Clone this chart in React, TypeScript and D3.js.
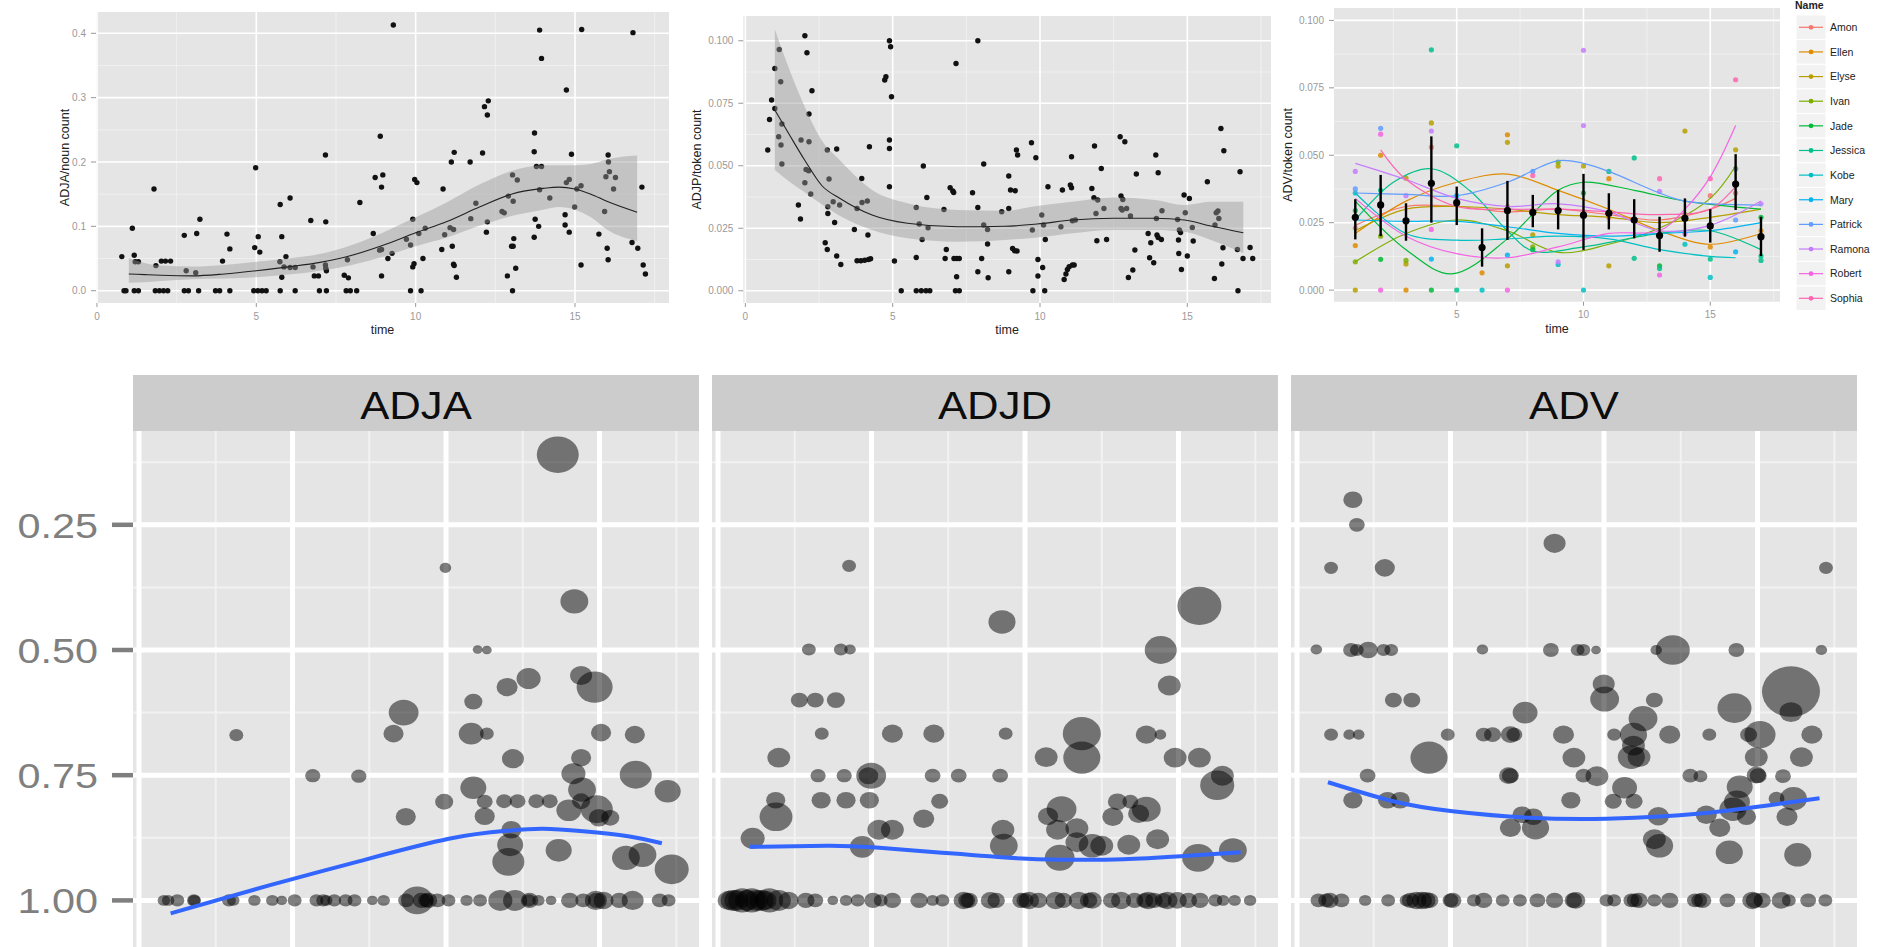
import { useEffect, useRef } from 'react';
import * as d3 from 'd3';

const WIDTH = 1879;
const HEIGHT = 947;
const FONT = '"Liberation Sans", Arial, Helvetica, sans-serif';
const PANEL_BG = '#E5E5E5';
const GRID_MINOR = '#F2F2F2';
const AXIS_GREY = '#7F7F7F';
// the bottom half of the picture is stretched sideways a little
const STRETCH = 1.15;

// ---------- top left: ADJA / noun count ----------
const adjaNounPoints = [
  [0.78, 0.053], [0.85, 0], [0.91, 0], [1.11, 0.097], [1.17, 0.055], [1.2, 0.045], [1.3, 0.045], [1.17, 0], [1.3, 0],
  [1.79, 0.158], [1.85, 0.039], [1.83, 0], [1.96, 0], [2.09, 0], [2.22, 0], [2.02, 0.046], [2.15, 0.046], [2.31, 0.046],
  [2.74, 0.086], [2.8, 0.031], [3.1, 0.028], [3.13, 0.089], [3.23, 0.111], [2.74, 0], [2.87, 0], [3.19, 0], [3.72, 0],
  [3.85, 0], [4.17, 0], [3.94, 0.046], [4.08, 0.088], [4.17, 0.065], [4.95, 0.067], [4.98, 0.191], [5.06, 0.084],
  [5.11, 0.06], [4.92, 0], [5.05, 0], [5.18, 0], [5.31, 0], [5.75, 0.134], [5.8, 0.084], [5.74, 0.045], [5.8, 0.021],
  [5.93, 0.053], [6.06, 0.144], [5.87, 0.037], [6.06, 0.036], [6.22, 0.036], [5.75, 0], [6.22, 0], [6.71, 0.109],
  [6.78, 0.037], [6.82, 0.023], [6.95, 0.023], [7.17, 0.211], [7.18, 0.107], [7.17, 0.04], [7.18, 0.035], [7.2, 0.031],
  [6.98, 0], [7.2, 0], [7.76, 0.024], [7.89, 0.02], [7.86, 0.048], [8.25, 0.137], [7.82, 0], [7.95, 0], [8.15, 0],
  [8.73, 0.176], [8.67, 0.089], [8.89, 0.24], [8.93, 0.161], [8.97, 0.18], [8.87, 0.063], [8.93, 0.064], [8.93, 0.023],
  [9.13, 0.05], [9.26, 0.058], [9.3, 0.413], [9.71, 0.08], [9.84, 0.071], [9.91, 0.111], [9.97, 0.173], [10.04, 0.168],
  [9.91, 0.037], [9.95, 0.042], [9.84, 0], [10.17, 0], [10.1, 0.089], [10.23, 0.05], [10.3, 0.097], [10.82, 0.064],
  [10.86, 0.158], [10.91, 0.087], [11.08, 0.098], [11.12, 0.2], [11.21, 0.215], [11.15, 0.069], [11.19, 0.041],
  [11.21, 0.039], [11.19, 0.095], [11.28, 0.021], [11.71, 0.2], [11.73, 0.112], [11.89, 0.136], [12.1, 0.214],
  [12.16, 0.286], [12.25, 0.273], [12.28, 0.295], [12.22, 0.091], [12.25, 0.107], [12.71, 0.123], [12.78, 0.121],
  [12.88, 0.023], [12.91, 0.147], [13.01, 0.069], [13.06, 0.069], [13.04, 0.18], [13.06, 0.139], [13.08, 0.081],
  [13.04, 0], [13.14, 0.035], [13.19, 0.172], [13.72, 0.083], [13.73, 0.245], [13.72, 0.216], [13.75, 0.111],
  [13.79, 0.193], [13.95, 0.193], [13.86, 0.1], [13.89, 0.405], [13.95, 0.361], [13.89, 0.157], [14.21, 0.144],
  [14.69, 0.118], [14.69, 0.102], [14.73, 0.312], [14.73, 0.168], [14.82, 0.173], [14.82, 0.091], [14.89, 0.212],
  [14.99, 0.13], [15.06, 0.158], [15.19, 0.163], [15.19, 0.04], [15.21, 0.406], [15.75, 0.088], [15.93, 0.123],
  [15.97, 0.177], [16.04, 0.211], [16.05, 0.2], [16.08, 0.185], [16.01, 0.066], [16.04, 0.048], [16.21, 0.158],
  [16.27, 0.176], [16.82, 0.401], [16.79, 0.075], [16.97, 0.066], [17.1, 0.161], [17.14, 0.04], [17.21, 0.026],
];
// time, fit, lower, upper
const adjaNounSmooth = [
  [1.0, 0.026, 0.0125, 0.051], [1.5, 0.025, 0.013, 0.043], [2.0, 0.024, 0.015, 0.039], [3.0, 0.023, 0.018, 0.0375],
  [4.0, 0.026, 0.019, 0.04], [5.0, 0.031, 0.021, 0.045], [6.0, 0.037, 0.025, 0.05], [7.0, 0.044, 0.031, 0.057],
  [8.0, 0.055, 0.04, 0.071], [9.0, 0.071, 0.053, 0.091], [10.0, 0.09, 0.069, 0.114], [11.0, 0.108, 0.083, 0.138],
  [12.0, 0.13, 0.101, 0.165], [13.0, 0.15, 0.116, 0.186], [14.0, 0.159, 0.126, 0.195], [14.5, 0.161, 0.13, 0.195],
  [15.0, 0.158, 0.126, 0.195], [15.5, 0.15, 0.114, 0.197], [16.0, 0.139, 0.095, 0.204], [16.95, 0.122, 0.077, 0.21],
];

// ---------- top middle: ADJP / token count ----------
const adjpTokenPoints = [
  [0.76, 0.0563], [0.82, 0.0685], [0.89, 0.0763], [1.0, 0.0889], [1.0, 0.0729], [1.15, 0.0965], [1.2, 0.0836],
  [1.13, 0.0616], [1.21, 0.0583], [1.24, 0.0667], [1.24, 0.0507], [1.8, 0.0343], [1.87, 0.0287], [1.89, 0.0603],
  [2.02, 0.102], [2.09, 0.0952], [2.02, 0.0432], [2.06, 0.0485], [2.15, 0.048], [2.16, 0.0596], [2.16, 0.0707],
  [2.22, 0.0387], [2.26, 0.08], [2.71, 0.0192], [2.78, 0.0165], [2.78, 0.0563], [2.8, 0.0336], [2.8, 0.0309],
  [2.84, 0.0447], [2.98, 0.0356], [3.03, 0.0273], [3.1, 0.0567], [3.1, 0.0139], [3.2, 0.0343], [3.24, 0.0105],
  [3.7, 0.0245], [3.79, 0.0329], [3.79, 0.012], [3.92, 0.012], [4.05, 0.0122], [4.18, 0.0125], [4.25, 0.0128],
  [3.95, 0.0449], [3.96, 0.0353], [4.14, 0.0359], [4.16, 0.0223], [4.21, 0.0576], [4.73, 0.0843], [4.77, 0.0856],
  [4.89, 0.1], [4.93, 0.0976], [4.96, 0.0776], [4.89, 0.0603], [4.89, 0.0569], [4.89, 0.0416], [5.06, 0.0119],
  [5.29, 0], [5.8, 0.0333], [5.8, 0.0133], [5.9, 0.0267], [6.0, 0.0205], [6.04, 0.0499], [6.16, 0.0373], [6.2, 0.0252],
  [5.8, 0], [5.97, 0], [6.13, 0], [6.26, 0], [6.74, 0.0325], [6.78, 0.0129], [6.82, 0.0165], [6.95, 0.0412],
  [7.04, 0.0399], [7.07, 0.0393], [7.15, 0.0909], [7.08, 0.0129], [7.17, 0.0129], [7.26, 0.0129], [7.17, 0.0056],
  [7.13, 0], [7.26, 0], [7.71, 0.0392], [7.89, 0.1], [7.89, 0.0333], [7.89, 0.0076], [8.02, 0.0129], [8.09, 0.0507],
  [8.09, 0.0263], [8.22, 0.0245], [8.22, 0.0187], [8.24, 0.0052], [8.7, 0.0316], [8.94, 0.0329], [8.94, 0.0459],
  [8.94, 0.0076], [9.0, 0.0403], [9.16, 0.04], [9.07, 0.0169], [9.14, 0.016], [9.22, 0.0159], [9.2, 0.0563],
  [9.24, 0.0543], [9.71, 0.0592], [9.74, 0.0243], [9.76, 0], [9.86, 0.0532], [9.93, 0.0125], [9.93, 0.0059],
  [10.06, 0.0303], [10.09, 0.0093], [10.12, 0.0263], [10.18, 0.0205], [10.16, 0], [10.27, 0.0416], [10.71, 0.0256],
  [10.76, 0.0403], [10.82, 0.0045], [10.88, 0.0067], [10.93, 0.0085], [10.99, 0.0096], [11.1, 0.0103], [11.16, 0.0103],
  [11.03, 0.0423], [11.07, 0.0412], [11.07, 0.0536], [11.1, 0.028], [11.2, 0.0283], [11.76, 0.0409], [11.85, 0.0579],
  [11.83, 0.0372], [11.96, 0.0363], [11.9, 0.0309], [11.93, 0.02], [12.08, 0.0489], [12.17, 0.0329], [12.26, 0.0205],
  [12.72, 0.0616], [12.88, 0.0596], [12.75, 0.0379], [12.81, 0.0365], [12.75, 0.0329], [12.79, 0.0323], [12.94, 0.0329],
  [13.0, 0.0053], [13.07, 0.0299], [13.15, 0.0083], [13.22, 0.0163], [13.27, 0.0467], [13.67, 0.0229], [13.72, 0.0132],
  [13.76, 0.0192], [13.86, 0.0112], [13.93, 0.0543], [13.95, 0.0289], [13.97, 0.0223], [14.01, 0.0472], [14.01, 0.0213],
  [14.12, 0.0205], [14.14, 0.032], [14.67, 0.0285], [14.7, 0.0203], [14.73, 0.0243], [14.77, 0.0233], [14.71, 0.0149],
  [14.8, 0.0085], [14.89, 0.0383], [14.93, 0.0312], [15.0, 0.0139], [15.07, 0.0369], [15.17, 0.0253], [15.2, 0.0199],
  [15.68, 0.0436], [15.92, 0.0049], [15.94, 0.0263], [15.98, 0.0312], [16.04, 0.0319], [16.07, 0.0289], [16.14, 0.0649],
  [16.17, 0.0107], [16.21, 0.0172], [16.24, 0.056], [16.7, 0.0165], [16.72, 0], [16.79, 0.0476], [16.89, 0.0129],
  [17.13, 0.0173], [17.22, 0.0129],
];
const adjpTokenSmooth = [
  [1.0, 0.0723, 0.0483, 0.1046], [1.5, 0.0623, 0.0436, 0.0883], [2.0, 0.0525, 0.0395, 0.074], [2.6, 0.042, 0.0345, 0.06],
  [3.2, 0.037, 0.03, 0.0523], [4.3, 0.0303, 0.0243, 0.0403], [5.5, 0.027, 0.021, 0.035], [7.2, 0.0256, 0.0196, 0.0323],
  [8.8, 0.0258, 0.0203, 0.032], [9.9, 0.0267, 0.0213, 0.0339], [11.1, 0.0283, 0.023, 0.0356], [12.5, 0.029, 0.0243, 0.0373],
  [13.9, 0.029, 0.0243, 0.0363], [14.9, 0.0283, 0.0236, 0.0343], [15.8, 0.0259, 0.0203, 0.0356], [16.9, 0.0232, 0.015, 0.0356],
];

// ---------- top right: ADV / token count by name ----------
const speakerNames = ['Amon', 'Ellen', 'Elyse', 'Ivan', 'Jade', 'Jessica', 'Kobe', 'Mary', 'Patrick', 'Ramona', 'Robert', 'Sophia'];
const speakerColors = ['#F8766D', '#DE8C00', '#B79F00', '#7CAE00', '#00BA38', '#00C08B', '#00BFC4', '#00B4F0', '#619CFF', '#C77CFF', '#F564E3', '#FF64B0'];
const advSpeakerSmooth = [
  [[1, 0.024], [3, 0.031], [5, 0.031], [7, 0.029], [9, 0.03], [11, 0.028], [13, 0.026], [15, 0.03], [16, 0.034]],
  [[1, 0.021], [3, 0.033], [5, 0.04], [7, 0.043], [9, 0.037], [11, 0.03], [13, 0.022], [15, 0.017], [17, 0.021]],
  [[1, 0.022], [3, 0.03], [5, 0.031], [7, 0.03], [9, 0.028], [11, 0.027], [13, 0.025], [15, 0.027], [17, 0.03]],
  [[1, 0.0105], [3, 0.021], [5, 0.026], [7, 0.022], [9, 0.014], [11, 0.017], [13, 0.023], [15, 0.034], [16, 0.046]],
  [[1, 0.033], [3, 0.015], [4.8, 0.006], [7, 0.019], [9, 0.037], [10, 0.04], [12, 0.037], [14, 0.033], [17, 0.03]],
  [[1, 0.026], [2.5, 0.04], [4, 0.045], [5.5, 0.037], [7, 0.022], [8, 0.0145], [10, 0.016], [13, 0.021], [15, 0.022], [17, 0.015]],
  [[1, 0.036], [3, 0.021], [5, 0.0185], [7, 0.019], [9, 0.02], [11, 0.019], [13, 0.015], [15, 0.0125], [16, 0.012]],
  [[1, 0.026], [3, 0.0255], [5, 0.0255], [7, 0.0235], [9, 0.021], [11, 0.02], [13, 0.021], [15, 0.022], [17, 0.025]],
  [[1, 0.036], [3, 0.0355], [5, 0.035], [7, 0.04], [9, 0.048], [10, 0.047], [11, 0.044], [13, 0.036], [14, 0.033], [17, 0.0315]],
  [[1, 0.047], [3, 0.041], [5, 0.034], [7, 0.031], [9, 0.032], [11, 0.029], [13, 0.022], [15, 0.024], [17, 0.033]],
  [[1, 0.034], [3, 0.02], [5, 0.0135], [7, 0.012], [9, 0.016], [11, 0.021], [13, 0.022], [14, 0.03], [15, 0.042], [16, 0.061]],
  [[2, 0.052], [3, 0.041], [5, 0.031], [7, 0.03], [9, 0.03], [11, 0.029], [13, 0.028], [15, 0.03], [16, 0.0385]],
];
const advSpeakerPoints = [
  [[1, 0.023], [4, 0.053], [7, 0.031], [11, 0.027], [15, 0.035], [16, 0.036]],
  [[1, 0.0165], [2, 0.05], [3, 0], [7, 0.0576], [6, 0.0064], [11, 0.0413], [15, 0.016], [17, 0.022]],
  [[1, 0], [3, 0.0415], [3, 0.0097], [4, 0.062], [7, 0.0548], [7, 0.009], [8, 0.0205], [9, 0.046], [10, 0.046], [11, 0.009], [14, 0.059], [16, 0.052]],
  [[1, 0.0105], [2, 0.02], [3, 0.011], [8, 0.016], [9, 0.0475], [14, 0.028], [16, 0.045]],
  [[4, 0], [2, 0.0114], [1, 0.0295], [8, 0.015], [10, 0.036], [17, 0.027], [13, 0.009]],
  [[4, 0.0891], [5, 0], [5, 0.0535], [11, 0.044], [12, 0.049], [12, 0.0118], [13, 0.008], [15, 0.0115], [17, 0.0126], [17, 0.011], [2, 0.037]],
  [[6, 0], [10, 0], [9, 0.0095], [14, 0.017], [15, 0.0047], [1, 0.036]],
  [[4, 0.0115], [7, 0.013], [16, 0.0142], [5, 0.035]],
  [[1, 0.0375], [8, 0.044], [16, 0.045], [2, 0.06], [16, 0.026]],
  [[1, 0.044], [4, 0.059], [10, 0.0889], [10, 0.061], [9, 0.0105], [13, 0.0366], [17, 0.032], [14, 0.021], [3, 0.035]],
  [[2, 0], [7, 0], [2, 0.0578], [4, 0.0225], [13, 0.0056]],
  [[16, 0.078], [15, 0.0413], [13, 0.0413], [8, 0.0425]],
];
const advTimes = [1, 2, 3, 4, 5, 6, 7, 8, 9, 10, 11, 12, 13, 14, 15, 16, 17];
const advMean = [0.027, 0.0316, 0.0257, 0.0396, 0.0324, 0.0158, 0.0295, 0.0288, 0.0295, 0.0278, 0.0285, 0.026, 0.0202, 0.0266, 0.0238, 0.0393, 0.0198];
const advLow = [0.0188, 0.02, 0.0183, 0.025, 0.0241, 0.0087, 0.0186, 0.0233, 0.0225, 0.0149, 0.0225, 0.0192, 0.0142, 0.0198, 0.0176, 0.0297, 0.0126];
const advHigh = [0.0337, 0.0427, 0.0322, 0.057, 0.0384, 0.0229, 0.0405, 0.0353, 0.0371, 0.0431, 0.0359, 0.0337, 0.0272, 0.034, 0.03, 0.0504, 0.0272];

// ---------- bottom facets: time, value, token count ----------
const facetNames = ['ADJA', 'ADJD', 'ADV'];
const adjaFacetPoints = [
  [13.64, 0.11, 91], [9.98, 0.336, 7], [14.18, 0.403, 40], [11.03, 0.499, 5], [11.33, 0.5, 5], [12.69, 0.557, 30],
  [11.99, 0.574, 23], [14.4, 0.551, 25], [14.84, 0.574, 67], [10.89, 0.603, 17], [8.62, 0.625, 46], [8.29, 0.667, 21],
  [10.82, 0.667, 32], [11.33, 0.667, 10], [15.05, 0.665, 21], [16.15, 0.669, 21], [3.17, 0.67, 10], [12.18, 0.717, 25],
  [14.4, 0.715, 21], [5.66, 0.751, 12], [7.16, 0.752, 12], [16.18, 0.749, 53], [14.15, 0.747, 30], [10.89, 0.775, 35],
  [14.43, 0.779, 40], [17.22, 0.782, 35], [9.94, 0.803, 17], [11.26, 0.803, 13], [11.89, 0.802, 13], [12.33, 0.802, 13],
  [12.94, 0.802, 13], [13.38, 0.802, 13], [14.4, 0.802, 17], [11.26, 0.832, 21], [8.69, 0.833, 21], [14.0, 0.82, 32],
  [14.91, 0.818, 53], [14.98, 0.835, 21], [15.35, 0.835, 17], [12.13, 0.859, 21], [12.09, 0.889, 35], [12.03, 0.923, 53],
  [13.67, 0.9, 35], [15.86, 0.915, 40], [16.4, 0.909, 40], [17.35, 0.938, 60],
];
const adjaAtOne = [
  [0.81, 8], [0.95, 8], [1.25, 10], [1.79, 10], [1.8, 8], [2.93, 10], [3.07, 8], [3.76, 8], [4.34, 8], [4.65, 6], [5.07, 10],
  [5.78, 10], [6.0, 10], [6.1, 8], [6.36, 10], [6.73, 10], [7.02, 10], [7.6, 6], [7.97, 8], [8.7, 13], [9.06, 53], [9.2, 16],
  [9.35, 13], [9.43, 16], [9.72, 13], [10.08, 10], [10.67, 8], [11.11, 10], [11.77, 30], [12.25, 30], [12.7, 10],
  [12.72, 16], [13.01, 8], [13.42, 6], [14.03, 16], [14.47, 13], [14.88, 25], [14.9, 16], [15.13, 21], [15.64, 16],
  [16.08, 25], [16.96, 13], [17.25, 10],
];
const adjdFacetPoints = [
  [4.27, 0.332, 10], [9.25, 0.444, 38], [15.68, 0.412, 100], [2.96, 0.499, 10], [4.0, 0.499, 10], [4.3, 0.499, 7],
  [14.42, 0.5, 53], [14.7, 0.571, 27], [2.65, 0.6, 15], [3.17, 0.6, 15], [3.84, 0.6, 17], [3.38, 0.667, 10],
  [5.68, 0.667, 23], [7.03, 0.667, 23], [9.37, 0.667, 10], [11.85, 0.667, 75], [13.95, 0.669, 23], [14.41, 0.669, 7],
  [1.98, 0.715, 27], [10.69, 0.714, 27], [11.85, 0.715, 71], [14.89, 0.715, 27], [15.68, 0.715, 27], [3.26, 0.751, 12],
  [4.11, 0.751, 12], [4.99, 0.751, 46], [4.9, 0.751, 20], [6.99, 0.751, 13], [7.84, 0.751, 13], [9.19, 0.751, 13],
  [16.43, 0.751, 27], [16.26, 0.77, 60], [1.88, 0.8, 19], [1.89, 0.833, 56], [3.36, 0.8, 19], [4.17, 0.8, 19],
  [4.93, 0.8, 19], [7.22, 0.802, 15], [6.7, 0.837, 23], [5.24, 0.859, 27], [5.68, 0.859, 27], [1.13, 0.876, 30],
  [4.7, 0.893, 32], [9.28, 0.859, 27], [9.31, 0.891, 40], [11.19, 0.818, 46], [10.75, 0.832, 21], [11.06, 0.859, 27],
  [11.69, 0.856, 27], [11.69, 0.884, 27], [13.01, 0.803, 19], [13.43, 0.803, 13], [13.7, 0.827, 23], [13.95, 0.818, 43],
  [12.86, 0.833, 23], [14.32, 0.878, 27], [12.19, 0.891, 38], [12.5, 0.891, 27], [13.38, 0.889, 27], [11.13, 0.915, 46],
  [15.64, 0.915, 53], [16.77, 0.9, 40],
];
const adjdAtOne = [
  [0.35, 25], [0.48, 30], [0.6, 30], [0.79, 40], [0.95, 30], [1.1, 40], [1.25, 30], [1.42, 30], [1.55, 25], [1.67, 40],
  [1.98, 30], [2.3, 21], [2.86, 16], [3.17, 13], [3.74, 6], [4.17, 8], [4.55, 10], [5.05, 16], [5.3, 10], [5.68, 16],
  [6.55, 16], [6.99, 8], [7.31, 10], [8.0, 21], [8.1, 15], [8.18, 16], [8.87, 19], [9.06, 16], [9.87, 16], [10.0, 15],
  [10.13, 21], [10.44, 16], [11.0, 21], [11.25, 16], [11.75, 21], [12.07, 16], [12.19, 19], [12.82, 16], [13.13, 21],
  [13.57, 16], [13.9, 15], [14.01, 21], [14.2, 16], [14.5, 15], [14.64, 21], [14.96, 19], [15.32, 16], [15.7, 16],
  [16.2, 10], [16.45, 8], [16.83, 8], [17.33, 8],
];
const advFacetPoints = [
  [1.82, 0.2, 19], [1.95, 0.25, 13], [8.39, 0.287, 25], [1.11, 0.336, 10], [2.86, 0.336, 21], [17.23, 0.336, 10],
  [0.63, 0.499, 7], [1.76, 0.5, 13], [1.95, 0.5, 10], [2.32, 0.5, 19], [2.82, 0.5, 10], [3.07, 0.5, 10], [6.04, 0.499, 7],
  [8.27, 0.5, 13], [9.14, 0.5, 10], [9.33, 0.5, 10], [9.74, 0.5, 5], [11.7, 0.5, 7], [12.24, 0.5, 60], [14.31, 0.5, 13],
  [17.08, 0.5, 7], [9.99, 0.568, 25], [10.02, 0.598, 43], [11.64, 0.6, 15], [3.14, 0.6, 15], [3.74, 0.6, 15],
  [16.09, 0.583, 174], [16.09, 0.624, 27], [14.25, 0.616, 60], [7.43, 0.625, 32], [11.27, 0.637, 43], [1.11, 0.669, 10],
  [1.7, 0.669, 7], [2.01, 0.669, 7], [4.91, 0.669, 10], [6.08, 0.669, 13], [6.37, 0.669, 15], [6.95, 0.669, 19],
  [7.08, 0.669, 13], [8.68, 0.669, 23], [10.33, 0.669, 10], [10.96, 0.669, 38], [10.96, 0.691, 27], [12.14, 0.669, 23],
  [13.43, 0.669, 10], [14.71, 0.669, 15], [15.08, 0.669, 50], [16.77, 0.669, 23], [4.3, 0.715, 71], [9.02, 0.715, 27],
  [10.89, 0.714, 38], [11.14, 0.714, 27], [14.96, 0.714, 27], [16.43, 0.714, 27], [2.3, 0.751, 13], [6.89, 0.751, 19],
  [6.95, 0.751, 15], [9.33, 0.751, 13], [9.77, 0.752, 27], [12.81, 0.751, 13], [13.14, 0.752, 10], [14.96, 0.75, 19],
  [15.02, 0.751, 15], [15.83, 0.752, 13], [10.67, 0.775, 32], [14.42, 0.773, 35], [14.33, 0.803, 35], [1.82, 0.8, 19],
  [2.95, 0.8, 19], [3.36, 0.8, 19], [8.92, 0.8, 19], [10.3, 0.802, 15], [10.98, 0.802, 15], [16.17, 0.797, 38],
  [15.62, 0.797, 13], [7.33, 0.829, 19], [7.7, 0.833, 19], [14.2, 0.818, 38], [14.64, 0.833, 19], [13.33, 0.829, 23],
  [11.77, 0.832, 23], [15.96, 0.833, 23], [6.95, 0.855, 23], [7.77, 0.855, 38], [13.77, 0.855, 23], [11.64, 0.878, 27],
  [11.81, 0.891, 38], [14.08, 0.904, 38], [16.31, 0.909, 38],
];
const advAtOne = [
  [0.7, 13], [0.95, 13], [1.07, 16], [1.45, 13], [2.22, 8], [2.97, 10], [3.57, 10], [3.7, 16], [3.89, 21], [4.07, 21],
  [4.2, 19], [4.32, 16], [5.0, 13], [5.07, 16], [5.76, 10], [6.08, 16], [6.7, 10], [7.26, 10], [7.83, 13], [8.39, 16],
  [9.0, 16], [9.08, 19], [10.08, 10], [10.33, 10], [10.89, 13], [11.0, 13], [11.14, 16], [11.64, 10], [12.14, 16],
  [12.96, 13], [13.1, 13], [13.21, 16], [14.02, 13], [14.83, 21], [14.9, 16], [15.15, 16], [15.77, 19], [16.02, 10],
  [16.65, 13], [17.21, 10],
];
const adjaFacetSmooth = [[1.03, 1.026], [4.24, 0.97], [7.16, 0.922], [10.09, 0.877], [11.99, 0.861], [13.15, 0.857], [14.47, 0.862], [15.93, 0.872], [17.03, 0.886]];
const adjdFacetSmooth = [[1.04, 0.893], [3.55, 0.891], [5.05, 0.894], [7.56, 0.906], [10.06, 0.917], [11.69, 0.919], [13.2, 0.918], [15.07, 0.912], [17.02, 0.904]];
const advFacetSmooth = [[1.01, 0.764], [3.2, 0.803], [5.07, 0.822], [7.57, 0.835], [10.08, 0.837], [11.96, 0.832], [13.83, 0.822], [15.71, 0.807], [17.02, 0.796]];
const bottomYTicks = [0.25, 0.5, 0.75, 1.0];

const drawGrid = (g, box, x, y, xMajor, xMinor, yMajor, yMinor, majorW, minorW) => {
  g.append('rect')
    .attr('x', box.x0).attr('y', box.y0)
    .attr('width', box.x1 - box.x0).attr('height', box.y1 - box.y0)
    .attr('fill', PANEL_BG);
  const vLines = (vals, color, w) => g.append('g').selectAll('line').data(vals).join('line')
    .attr('x1', d => x(d)).attr('x2', d => x(d)).attr('y1', box.y0).attr('y2', box.y1)
    .attr('stroke', color).attr('stroke-width', w);
  const hLines = (vals, color, w) => g.append('g').selectAll('line').data(vals).join('line')
    .attr('y1', d => y(d)).attr('y2', d => y(d)).attr('x1', box.x0).attr('x2', box.x1)
    .attr('stroke', color).attr('stroke-width', w);
  hLines(yMinor, GRID_MINOR, minorW);
  vLines(xMinor, GRID_MINOR, minorW);
  hLines(yMajor, '#FFFFFF', majorW);
  vLines(xMajor, '#FFFFFF', majorW);
};

const drawTopAxes = (svg, box, x, y, xTicks, yTicks, yFmt, yTitle, yTitleX) => {
  const g = svg.append('g').style('font-family', FONT);
  g.selectAll('.xt').data(xTicks).join('line')
    .attr('x1', d => x(d)).attr('x2', d => x(d)).attr('y1', box.y1).attr('y2', box.y1 + 4)
    .attr('stroke', AXIS_GREY).attr('stroke-width', 0.8);
  g.selectAll('.xl').data(xTicks).join('text')
    .attr('x', d => x(d)).attr('y', box.y1 + 16.5)
    .attr('text-anchor', 'middle').attr('font-size', 10).attr('fill', '#999')
    .text(d => d3.format('d')(d));
  g.selectAll('.yt').data(yTicks).join('line')
    .attr('x1', box.x0 - 5).attr('x2', box.x0).attr('y1', d => y(d)).attr('y2', d => y(d))
    .attr('stroke', AXIS_GREY).attr('stroke-width', 0.8);
  g.selectAll('.yl').data(yTicks).join('text')
    .attr('x', box.x0 - 10).attr('y', d => y(d)).attr('dy', '0.36em')
    .attr('text-anchor', 'end').attr('font-size', 10).attr('fill', '#999')
    .text(d => d3.format(yFmt)(d));
  g.append('text')
    .attr('x', (box.x0 + box.x1) / 2).attr('y', box.y1 + 31)
    .attr('text-anchor', 'middle').attr('font-size', 12.5).attr('fill', '#222')
    .text('time');
  g.append('text')
    .attr('transform', `translate(${yTitleX + 4},${(box.y0 + box.y1) / 2}) rotate(-90)`)
    .attr('text-anchor', 'middle').attr('font-size', 12.5).attr('fill', '#222')
    .text(yTitle);
};

const drawSmoothScatter = (svg, box, xDomain, yDomain, points, smooth, xTicks, xMinor, yTicks, yMinor, yFmt, yTitle, yTitleX) => {
  const x = d3.scaleLinear().domain(xDomain).range([box.x0, box.x1]);
  const y = d3.scaleLinear().domain(yDomain).range([box.y1, box.y0]);
  const g = svg.append('g');
  drawGrid(g, box, x, y, xTicks, xMinor, yTicks, yMinor, 1.6, 0.8);
  g.append('g').selectAll('circle').data(points).join('circle')
    .attr('cx', d => x(d[0])).attr('cy', d => y(d[1])).attr('r', 2.7)
    .attr('fill', '#111');
  const band = d3.area().x(d => x(d[0])).y0(d => y(d[2])).y1(d => y(d[3])).curve(d3.curveMonotoneX);
  g.append('path').attr('d', band(smooth)).attr('fill', '#999').attr('fill-opacity', 0.45);
  const line = d3.line().x(d => x(d[0])).y(d => y(d[1])).curve(d3.curveMonotoneX);
  g.append('path').attr('d', line(smooth)).attr('fill', 'none').attr('stroke', '#222').attr('stroke-width', 1.1);
  drawTopAxes(svg, box, x, y, xTicks, yTicks, yFmt, yTitle, yTitleX);
};

const App = () => {
  const svgRef = useRef(null);

  useEffect(() => {
    const svg = d3.select(svgRef.current);
    svg.selectAll('*').remove();
    svg.append('rect').attr('width', WIDTH).attr('height', HEIGHT).attr('fill', '#fff');

    // top left and top middle
    drawSmoothScatter(svg, { x0: 96, x1: 669, y0: 12, y1: 303 }, [-0.03, 17.95], [-0.0191, 0.4331],
      adjaNounPoints, adjaNounSmooth, [0, 5, 10, 15], [2.5, 7.5, 12.5, 17.5],
      [0, 0.1, 0.2, 0.3, 0.4], [0.05, 0.15, 0.25, 0.35], '.1f', 'ADJA/noun count', 65);
    drawSmoothScatter(svg, { x0: 743.3, x1: 1271, y0: 16, y1: 303 }, [-0.07, 17.84], [-0.0049, 0.1099],
      adjpTokenPoints, adjpTokenSmooth, [0, 5, 10, 15], [2.5, 7.5, 12.5, 17.5],
      [0, 0.025, 0.05, 0.075, 0.1], [0.0125, 0.0375, 0.0625, 0.0875], '.3f', 'ADJP/token count', 697);

    // top right: per speaker
    {
      const box = { x0: 1334, x1: 1780, y0: 8, y1: 301.7 };
      const x = d3.scaleLinear().domain([0.16, 17.75]).range([box.x0, box.x1]);
      const y = d3.scaleLinear().domain([-0.0043, 0.1046]).range([box.y1, box.y0]);
      const g = svg.append('g');
      drawGrid(g, box, x, y, [5, 10, 15], [2.5, 7.5, 12.5, 17.5], [0, 0.025, 0.05, 0.075, 0.1], [0.0125, 0.0375, 0.0625, 0.0875], 1.6, 0.8);
      const line = d3.line().x(d => x(d[0])).y(d => y(d[1])).curve(d3.curveCatmullRom.alpha(0.5));
      speakerNames.forEach((name, i) => {
        g.append('g').selectAll('circle').data(advSpeakerPoints[i]).join('circle')
          .attr('cx', d => x(d[0])).attr('cy', d => y(d[1])).attr('r', 2.6)
          .attr('fill', speakerColors[i]).attr('fill-opacity', 0.85);
      });
      speakerNames.forEach((name, i) => {
        g.append('path').attr('d', line(advSpeakerSmooth[i]))
          .attr('fill', 'none').attr('stroke', speakerColors[i]).attr('stroke-width', 1.2);
      });
      g.append('g').selectAll('line').data(advTimes).join('line')
        .attr('x1', d => x(d)).attr('x2', d => x(d))
        .attr('y1', (d, i) => y(advLow[i])).attr('y2', (d, i) => y(advHigh[i]))
        .attr('stroke', '#000').attr('stroke-width', 2.4);
      g.append('g').selectAll('circle').data(advTimes).join('circle')
        .attr('cx', d => x(d)).attr('cy', (d, i) => y(advMean[i])).attr('r', 3.6).attr('fill', '#000');
      drawTopAxes(svg, box, x, y, [5, 10, 15], [0, 0.025, 0.05, 0.075, 0.1], '.3f', 'ADV/token count', 1287.6);

      // legend
      const lg = svg.append('g').style('font-family', FONT);
      lg.append('text').attr('x', 1795).attr('y', 9).attr('font-size', 10.5).attr('font-weight', 'bold')
        .attr('fill', '#222').text('Name');
      const ky = d3.scalePoint().domain(speakerNames).range([27.3, 298.3]);
      const rows = lg.selectAll('g.key').data(speakerNames).join('g').attr('class', 'key')
        .attr('transform', d => `translate(0,${ky(d)})`);
      rows.append('rect').attr('x', 1796).attr('y', -12.3).attr('width', 30).attr('height', 24.6)
        .attr('fill', GRID_MINOR).attr('stroke', '#fff').attr('stroke-width', 1);
      rows.append('line').attr('x1', 1799).attr('x2', 1823).attr('y1', 0).attr('y2', 0)
        .attr('stroke', (d, i) => speakerColors[i]).attr('stroke-width', 1.2);
      rows.append('circle').attr('cx', 1811).attr('cy', 0).attr('r', 2.4)
        .attr('fill', (d, i) => speakerColors[i]);
      rows.append('text').attr('x', 1830).attr('y', 0).attr('dy', '0.36em')
        .attr('font-size', 10.5).attr('fill', '#222').text(d => d);
    }

    // bottom facets
    const facetPoints = [adjaFacetPoints, adjdFacetPoints, advFacetPoints];
    const facetAtOne = [adjaAtOne, adjdAtOne, advAtOne];
    const facetSmooth = [adjaFacetSmooth, adjdFacetSmooth, advFacetSmooth];
    const size = d3.scaleSqrt().domain([0, 100]).range([0, 22]);
    const y = d3.scaleLinear().domain([0.25, 1.0]).range([524.8, 900.4]);
    const stripTop = 375;
    const panelTop = 431;
    const panelBottom = 960;

    facetNames.forEach((name, i) => {
      const left = 133 + i * 579;
      const box = { x0: left, x1: left + 566, y0: panelTop, y1: panelBottom };
      const x = d3.scaleLinear().domain([-0.195, 18.24]).range([box.x0, box.x1]);
      const g = svg.append('g');
      const clipId = `facet-clip-${i}`;
      g.append('clipPath').attr('id', clipId).append('rect')
        .attr('x', box.x0).attr('y', box.y0).attr('width', box.x1 - box.x0).attr('height', box.y1 - box.y0);
      drawGrid(g, box, x, y, [0, 5, 10, 15], [2.5, 7.5, 12.5, 17.5], bottomYTicks, [0.125, 0.375, 0.625, 0.875], 5, 2);

      const marks = g.append('g').attr('clip-path', `url(#${clipId})`);
      const all = facetPoints[i].concat(facetAtOne[i].map(d => [d[0], 1.0, d[1]]));
      marks.selectAll('ellipse').data(all).join('ellipse')
        .attr('cx', d => x(d[0])).attr('cy', d => y(d[1]))
        .attr('rx', d => size(d[2])).attr('ry', d => size(d[2]) / STRETCH)
        .attr('fill', '#000').attr('fill-opacity', 0.5);
      const line = d3.line().x(d => x(d[0])).y(d => y(d[1])).curve(d3.curveNatural);
      marks.append('path').attr('d', line(facetSmooth[i]))
        .attr('fill', 'none').attr('stroke', '#3366FF').attr('stroke-width', 4);

      g.append('rect').attr('x', box.x0).attr('y', stripTop)
        .attr('width', box.x1 - box.x0).attr('height', panelTop - stripTop).attr('fill', '#CCCCCC');
      g.append('text')
        .attr('transform', `translate(${(box.x0 + box.x1) / 2},419) scale(${STRETCH},1)`)
        .attr('text-anchor', 'middle').attr('font-size', 38).attr('fill', '#0d0d0d')
        .style('font-family', FONT).text(name);
    });

    // bottom y axis
    const ax = svg.append('g').style('font-family', FONT);
    ax.selectAll('line').data(bottomYTicks).join('line')
      .attr('x1', 112).attr('x2', 133).attr('y1', d => y(d)).attr('y2', d => y(d))
      .attr('stroke', AXIS_GREY).attr('stroke-width', 4.5);
    ax.selectAll('text').data(bottomYTicks).join('text')
      .attr('transform', d => `translate(98,${y(d)}) scale(${STRETCH},1)`)
      .attr('dy', '0.36em').attr('text-anchor', 'end')
      .attr('font-size', 36).attr('fill', AXIS_GREY)
      .text(d => d3.format('.2f')(d));
  }, []);

  return (
    <div style={{ position: 'absolute', left: 0, top: 0 }}>
      <svg ref={svgRef} width={WIDTH} height={HEIGHT} style={{ display: 'block' }} />
    </div>
  );
};

export default App;
